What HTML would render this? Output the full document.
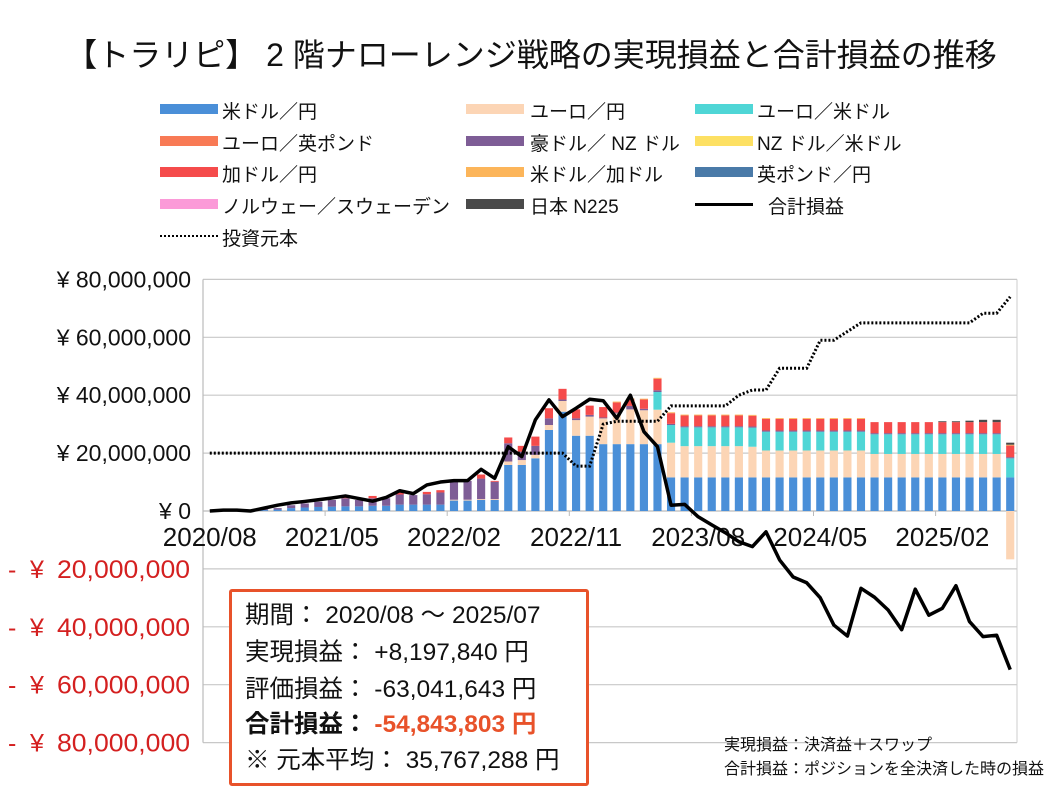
<!DOCTYPE html>
<html><head><meta charset="utf-8"><style>
html,body{margin:0;padding:0;background:#fff;}
body{width:1058px;height:794px;overflow:hidden;position:relative;font-family:"Liberation Sans","Noto Sans CJK JP",sans-serif;}
.lg{position:absolute;font-size:19px;color:#111;white-space:nowrap;}
.sw{position:absolute;width:58px;height:10px;}
#box{position:absolute;left:229px;top:589px;width:360px;height:197px;border:3px solid #e8522a;border-radius:3px;background:#fff;box-sizing:border-box;}
#box div{position:absolute;left:13px;font-size:24.5px;color:#111;white-space:nowrap;}
.note{position:absolute;left:724px;font-size:16px;color:#111;white-space:nowrap;}
</style></head><body>
<div style="position:absolute;left:0;width:1062px;top:30px;text-align:center;font-size:32px;color:#111;">【トラリピ】 2 階ナローレンジ戦略の実現損益と合計損益の推移</div>
<div>
<div class="sw" style="left:160px;top:104px;background:#4a8fd8"></div><div class="lg" style="left:222px;top:97px">米ドル／円</div>
<div class="sw" style="left:466px;top:104px;background:#fcd5b5"></div><div class="lg" style="left:530px;top:97px">ユーロ／円</div>
<div class="sw" style="left:695px;top:104px;background:#4fd6d6"></div><div class="lg" style="left:757px;top:97px">ユーロ／米ドル</div>
<div class="sw" style="left:160px;top:136px;background:#f87a55"></div><div class="lg" style="left:222px;top:129px">ユーロ／英ポンド</div>
<div class="sw" style="left:466px;top:136px;background:#7e5d96"></div><div class="lg" style="left:530px;top:129px">豪ドル／ NZ ドル</div>
<div class="sw" style="left:695px;top:136px;background:#fde063"></div><div class="lg" style="left:757px;top:129px">NZ ドル／米ドル</div>
<div class="sw" style="left:160px;top:167px;background:#f54b4b"></div><div class="lg" style="left:222px;top:160px">加ドル／円</div>
<div class="sw" style="left:466px;top:167px;background:#fcb55a"></div><div class="lg" style="left:530px;top:160px">米ドル／加ドル</div>
<div class="sw" style="left:695px;top:167px;background:#4a7aa8"></div><div class="lg" style="left:757px;top:160px">英ポンド／円</div>
<div class="sw" style="left:160px;top:199px;background:#fb9ad8"></div><div class="lg" style="left:222px;top:192px">ノルウェー／スウェーデン</div>
<div class="sw" style="left:466px;top:199px;background:#4a4a4a"></div><div class="lg" style="left:530px;top:192px">日本 N225</div>
<div class="sw" style="left:695px;top:203px;height:2.5px;background:#000"></div><div class="lg" style="left:768px;top:192px">合計損益</div>
<div class="sw" style="left:160px;top:235px;height:0;border-top:2px dotted #000"></div><div class="lg" style="left:222px;top:224px">投資元本</div>
</div>
<svg id="chart" width="1058" height="794" style="position:absolute;left:0;top:0"></svg>
<div id="box">
<div style="top:4px">期間： 2020/08 ～ 2025/07</div>
<div style="top:41px">実現損益： +8,197,840 円</div>
<div style="top:78px">評価損益： -63,041,643 円</div>
<div style="top:113px;font-weight:bold">合計損益： <span style="color:#e8522a">-54,843,803 円</span></div>
<div style="top:149px">※ 元本平均： 35,767,288 円</div>
</div>
<div class="note" style="top:731px">実現損益：決済益＋スワップ</div>
<div class="note" style="top:755px">合計損益：ポジションを全決済した時の損益</div>
<script>
const months = [];
for (let y = 2020, m = 8; months.length < 60; m++) { if (m > 12) { m = 1; y++; } months.push(y + '/' + String(m).padStart(2, '0')); }
const yTicks = [80, 60, 40, 20, 0, -20, -40, -60, -80];
const usdjpy = [0,0,0,0,0.3,0.5,1,1.2,1.4,1.5,1.6,1.6,1.8,1.8,2.2,2.2,2.2,2.2,3.6,3.6,3.8,3.8,15.9,15.9,18.2,28,34.3,26,26,23.1,23.1,23.1,23.1,23.1,11.6,11.6,11.6,11.6,11.6,11.6,11.6,11.6,11.6,11.6,11.6,11.6,11.6,11.6,11.6,11.6,11.6,11.6,11.6,11.6,11.6,11.6,11.6,11.6,11.6,11.6];
const eurjpy = [0,0,0,0,0,0,0,0,0,0,0,0,0,0,0,0,0,0,0.3,0.3,0.3,0.3,1.2,1.7,1.2,1.7,3.7,5.4,6.6,8.9,10.6,12,11.7,11.9,12,10.8,10.8,10.8,10.8,10.8,10.6,9.3,9.3,9.3,9.3,9.3,9.3,9.3,9.3,8.1,8.1,8.1,8.1,8.1,8.1,8.1,8.1,8.1,8.1,-16.7];
const eurusd = [0,0,0,0,0,0,0,0,0,0,0,0,0,0,0,0,0,0,0,0,0,0,0,0,0,0,0,0,0,0,0,0,0,6.1,6.1,6.5,6.5,6.5,6.5,6.5,6.6,6.5,6.5,6.5,6.5,6.5,6.5,6.5,6.5,6.8,6.8,6.8,6.8,6.8,6.8,6.8,6.8,6.8,6.8,6.6];
const eurgbp = new Array(60).fill(0);
const audnzd = [0,0,0,0,0.3,0.5,1,1.4,1.8,2.3,2.8,2.2,2.6,2.6,3.5,3.3,3.6,4.2,6.5,6.5,7.1,6,6.3,2.9,3.1,2.3,0.5,0.6,0.6,0.3,0.3,1.2,0.5,0.6,0.4,0.4,0.4,0.4,0.4,0.4,0.4,0.4,0.4,0.4,0.4,0.4,0.4,0.4,0.4,0.4,0.4,0.4,0.4,0.4,0.4,0.4,0.4,0.4,0.4,0.4];
const nzdusd = new Array(60).fill(0);
const cadjpy = [0,0,0,0,0,0,0,0,0,0,0.3,0,0.8,0,0.8,0,0.8,0.8,0.3,0,1.4,0.3,2,2,3.2,3.5,3.7,3.1,3.2,3.6,3.5,2.3,3.2,4,3.7,3.7,3.7,3.7,3.7,3.7,3.7,4,4,4,4,4,4,4,4,3.8,3.8,3.8,3.8,3.8,3.8,3.8,3.8,3.8,3.8,4];
const usdcad = [0,0,0,0,0,0,0,0,0,0,0,0,0,0,0,0,0,0,0,0,0,0,0,0,0,0,0,0,0,0,0.3,0.3,0.3,0.3,0.3,0.3,0.3,0.3,0.3,0.3,0.3,0.3,0.3,0.3,0.3,0.3,0.3,0.3,0.3,0,0,0,0,0,0,0,0,0,0,0.3];
const gbpjpy = new Array(60).fill(0);
const noksek = new Array(60).fill(0);
const n225 = [0,0,0,0,0,0,0,0,0,0,0,0,0,0,0,0,0,0,0,0,0,0,0,0,0,0,0,0,0,0,0,0,0,0,0,0,0,0,0,0,0,0,0,0,0,0,0,0,0,0,0,0,0,0,0.3,0.3,0.5,0.8,0.8,0.7];
const totalPL = [0,0.3,0.3,0,1,2,2.8,3.3,3.9,4.5,5.2,4.3,3.4,4.7,7,6,9,10,10.5,10.5,14.4,11.3,22.2,18.8,31.5,38.4,32.6,35.5,38.6,38.1,32,40,27.4,22.2,2,2.3,-2,-4.8,-7.5,-10.6,-12.3,-7.2,-16.9,-22.8,-24.8,-30,-39.4,-43.2,-26.7,-29.8,-34.2,-41,-27,-36,-33.6,-25.8,-38.2,-43.4,-42.9,-54.8];
const principal = [20,20,20,20,20,20,20,20,20,20,20,20,20,20,20,20,20,20,20,20,20,20,20,20,20,20,20,15.5,15.5,30,31,31,31,31,36.3,36.3,36.3,36.3,36.3,40,41.8,41.8,49.3,49.3,49.3,59,59,62,65,65,65,65,65,65,65,65,65,68.3,68.3,74];

const series = [
 ['usdjpy', usdjpy, '#4a8fd8'], ['eurjpy', eurjpy, '#fcd5b5'], ['eurusd', eurusd, '#4fd6d6'],
 ['eurgbp', eurgbp, '#f87a55'], ['audnzd', audnzd, '#7e5d96'], ['nzdusd', nzdusd, '#fde063'],
 ['cadjpy', cadjpy, '#f54b4b'], ['usdcad', usdcad, '#fcb55a'], ['gbpjpy', gbpjpy, '#4a7aa8'],
 ['noksek', noksek, '#fb9ad8'], ['n225', n225, '#4a4a4a']];

const L = 203, R = 1017, N = months.length, step = (R - L) / N;
const Y0 = 511, PX = 57.9 / 20;
const xc = i => L + step * (i + 0.5);
const yv = v => Y0 - v * PX;
const svg = document.getElementById('chart');
const NS = 'http://www.w3.org/2000/svg';
function mk(tag, attrs, parent) { const e = document.createElementNS(NS, tag); for (const k in attrs) e.setAttribute(k, attrs[k]); (parent || svg).appendChild(e); return e; }
const FF = 'Liberation Sans, sans-serif';

yTicks.forEach(t => {
  const g = mk('line', { x1: L, x2: R, y1: yv(t), y2: yv(t), stroke: t === 0 ? '#bbb' : '#c8c8c8', 'stroke-width': 1.2 });
  
  
  const col = t < 0 ? '#d42020' : '#111';
  if (t < 0) {
    const lab = mk('text', { x: 57, y: yv(t) + 9, 'font-size': 25, fill: col, 'font-family': FF, textLength: 133, lengthAdjust: 'spacingAndGlyphs' });
    lab.textContent = Math.abs(t * 1000000).toLocaleString('en-US');
    
    
    const pre = mk('text', { x: 8, y: yv(t) + 9, 'font-size': 25, fill: col, 'font-family': FF });
    pre.textContent = '-';
    
    
    const yen = mk('text', { x: 30, y: yv(t) + 9, 'font-size': 25, fill: col, 'font-family': FF });
    yen.textContent = '¥';
    
    
  } else {
    const lab = mk('text', { x: 191, y: yv(t) + 8, 'text-anchor': 'end', 'font-size': 23, fill: col, 'font-family': FF });
    lab.textContent = t === 0 ? '¥ 0' : '¥ ' + (t * 1000000).toLocaleString('en-US');
    
    
  }
});
const ax = mk('line', { x1: L, x2: L, y1: yv(80), y2: yv(-80), stroke: '#bbb', 'stroke-width': 1.2 });


const rb = mk('line', { x1: R, x2: R, y1: yv(80), y2: yv(-80), stroke: '#ccc', 'stroke-width': 1 });



const bw = step * 0.6;
for (let i = 0; i < N; i++) {
  let pos = 0, neg = 0;
  series.forEach(([name, arr, col]) => {
    const v = arr[i]; if (!v) return;
    let y1, y2;
    if (v > 0) { y1 = yv(pos + v); y2 = yv(pos); pos += v; } else { y1 = yv(neg); y2 = yv(neg + v); neg += v; }
    const r = mk('rect', { x: xc(i) - bw / 2, y: y1, width: bw, height: Math.max(0, y2 - y1), fill: col });
    
    
  });
}
for (let i = 0; i <= N; i += 9) {
  const tk = mk('line', { x1: L + step * i, x2: L + step * i, y1: Y0, y2: Y0 + 5, stroke: '#bbb' });
  
  
}
for (let i = 0; i < N; i += 9) {
  const t = mk('text', { x: xc(i), y: Y0 + 35, 'text-anchor': 'middle', 'font-size': 26, fill: '#111', 'font-family': FF });
  t.textContent = months[i];
  
  
}
const pl = mk('polyline', { points: principal.map((v, i) => xc(i) + ',' + yv(v)).join(' '), fill: 'none', stroke: '#000', 'stroke-width': 3, 'stroke-dasharray': '2 2' });


const tl = mk('polyline', { points: totalPL.map((v, i) => xc(i) + ',' + yv(v)).join(' '), fill: 'none', stroke: '#000', 'stroke-width': 3.5, 'stroke-linejoin': 'round' });


</script>
</body></html>
